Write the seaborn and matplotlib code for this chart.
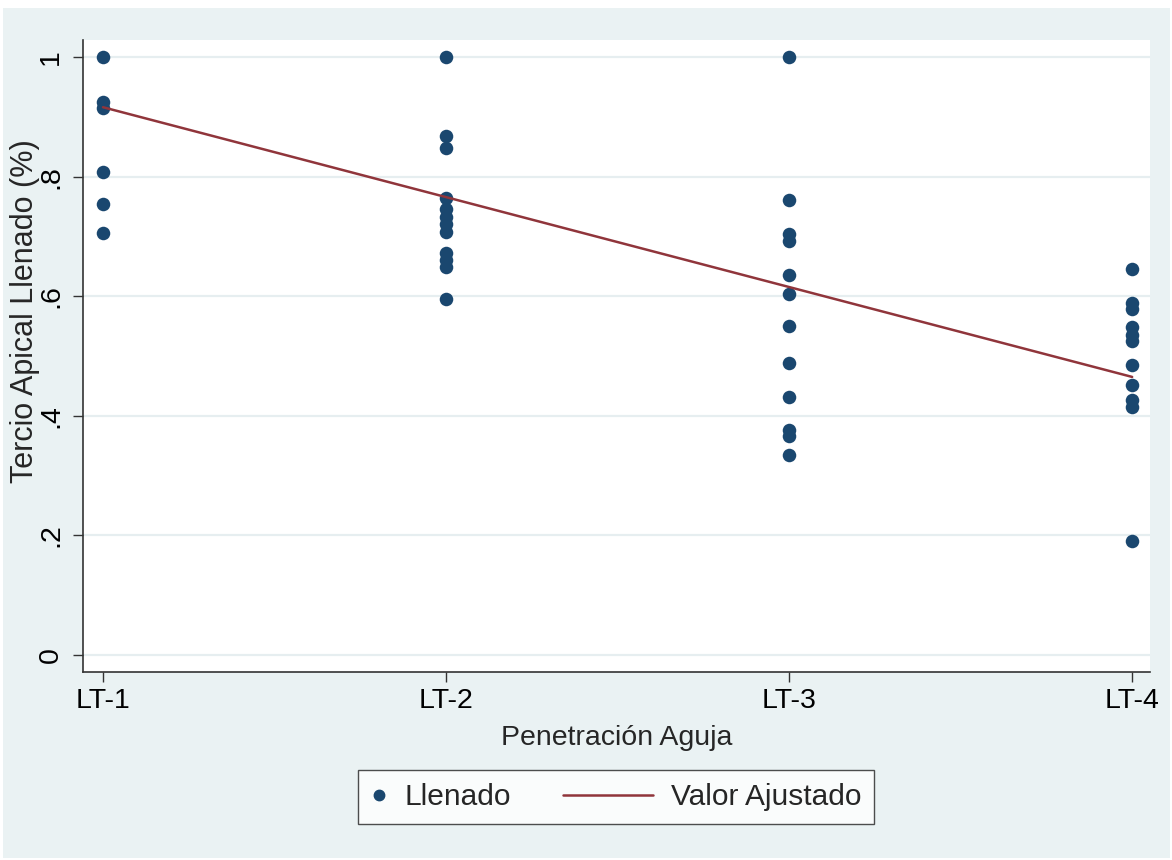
import numpy as np
import pandas as pd
import matplotlib
matplotlib.use("Agg")
import matplotlib.pyplot as plt
from matplotlib.patches import Rectangle
from matplotlib.lines import Line2D
from matplotlib.legend_handler import HandlerBase
import seaborn as sns

# Group labels and filled apical-third fraction per sample
groups = ["LT-1", "LT-2", "LT-3", "LT-4"]
lt1 = [1.0, 0.925, 0.915, 0.807, 0.754, 0.706]
lt2 = [1.0, 0.868, 0.848, 0.764, 0.745, 0.732, 0.72, 0.708, 0.673, 0.66, 0.649, 0.595]
lt3 = [1.0, 0.761, 0.704, 0.693, 0.636, 0.604, 0.551, 0.488, 0.432, 0.376, 0.366, 0.334]
lt4 = [0.645, 0.589, 0.578, 0.549, 0.535, 0.525, 0.485, 0.452, 0.427, 0.415, 0.191]
# Fitted values of the linear model at the first and last group
fit_groups = [1, 4]
fit_values = [0.916, 0.465]
yticks = [0, 0.2, 0.4, 0.6, 0.8, 1.0]
ytick_labels = ["0", ".2", ".4", ".6", ".8", "1"]

rows = []
for i, vals in enumerate([lt1, lt2, lt3, lt4], start=1):
    for v in vals:
        rows.append({"pos": i, "grupo": groups[i - 1], "llenado": v})
df = pd.DataFrame(rows)
fit_df = pd.DataFrame({"pos": fit_groups, "ajustado": fit_values})

navy = "#1A476F"
maroon = "#90353B"
bg = "#EAF2F3"

sns.set_theme(style="white")
plt.rcParams["font.family"] = ["Liberation Sans", "DejaVu Sans"]

fig = plt.figure(figsize=(11.72, 8.6), dpi=100, facecolor="white")
W, H = 1172, 860
fig.patches.append(Rectangle((3 / W, 2 / H), 1167 / W, 850 / H,
                             transform=fig.transFigure, facecolor=bg,
                             edgecolor="none", zorder=-10))

ax = fig.add_axes([83 / W, (H - 672) / H, 1067 / W, 632 / H])
ax.set_facecolor("white")

sns.scatterplot(data=df, x="pos", y="llenado", ax=ax, color=navy, s=95,
                edgecolor=navy, linewidth=0, zorder=3, legend=False)
sns.lineplot(data=fit_df, x="pos", y="ajustado", ax=ax, color=maroon,
             linewidth=1.8, zorder=4, legend=False)

ax.set_xlim(0.9417, 4.052)
ax.set_ylim(-0.0284, 1.0284)
ax.set_xticks([1, 2, 3, 4])
ax.set_xticklabels(groups)
ax.set_yticks(yticks)
ax.set_yticklabels(ytick_labels, rotation=90, va="center")
ax.yaxis.grid(True, color="#E6EEF0", linewidth=1.6)
ax.xaxis.grid(False)
ax.set_axisbelow(True)

for side in ["top", "right"]:
    ax.spines[side].set_visible(False)
for side in ["left", "bottom"]:
    ax.spines[side].set_color("#333333")
    ax.spines[side].set_linewidth(1.2)

ax.tick_params(axis="both", which="both", direction="out", length=7.5,
               width=1.0, color="#333333", labelsize=20.5, labelcolor="black",
               left=True, bottom=True, pad=4)
ax.tick_params(axis="y", pad=6)

ax.set_xlabel("Penetración Aguja", fontsize=20.5)
ax.set_ylabel("Tercio Apical Llenado (%)", fontsize=22)
ax.xaxis.set_label_coords(0.5, (672 - 738) / 632, transform=ax.transAxes)
ax.xaxis.label.set_va("center")
ax.yaxis.set_label_coords((25 - 83) / 1067, (672 - 311) / 632,
                          transform=ax.transAxes)
ax.yaxis.label.set_va("center")


class LongLine(HandlerBase):
    """Legend line that extends leftwards beyond the handle box."""

    def create_artists(self, legend, orig_handle, xdescent, ydescent,
                       width, height, fontsize, trans):
        y = height / 2 - ydescent
        x1 = width - xdescent
        x0 = x1 - 65
        ln = Line2D([x0, x1], [y, y], color=orig_handle.get_color(),
                    linewidth=orig_handle.get_linewidth(), transform=trans)
        return [ln]


dot = Line2D([], [], linestyle="none", marker="o", markersize=7.5,
             markerfacecolor=navy, markeredgecolor=navy)
fit_line = Line2D([], [], color=maroon, linewidth=1.8)
leg = fig.legend([dot, fit_line], ["Llenado", "Valor Ajustado"], loc="center",
                 bbox_to_anchor=(616 / W, (H - 797) / H), ncol=2,
                 fontsize=21.5, frameon=True, fancybox=False,
                 handlelength=0.55, columnspacing=4.2, handletextpad=0.6,
                 borderpad=0.42, handler_map={fit_line: LongLine()})
leg.get_frame().set_edgecolor("#222222")
leg.get_frame().set_linewidth(1.0)
leg.get_frame().set_facecolor("white")

fig.savefig("out.png", dpi=100, facecolor=fig.get_facecolor())
